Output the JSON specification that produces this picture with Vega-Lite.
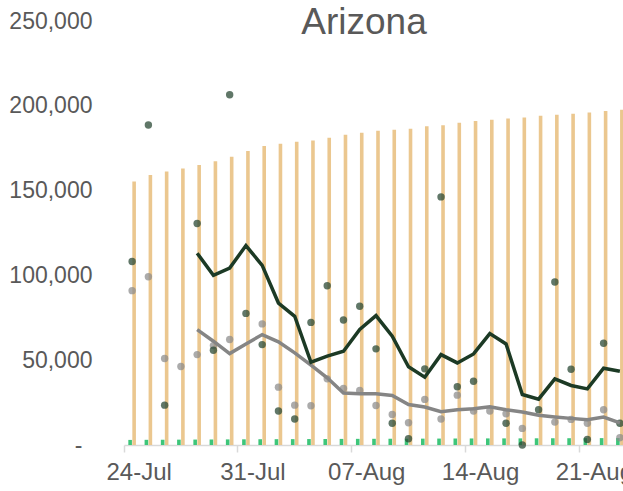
{
  "$schema": "https://vega.github.io/schema/vega-lite/v6.json",
  "width": 499,
  "height": 424,
  "autosize": {"type": "none"},
  "padding": {"left": 124, "top": 21, "right": 0, "bottom": 46},
  "background": "white",
  "config": {"view": {"stroke": null}, "font": "Liberation Sans"},
  "title": {"text": "Arizona", "fontSize": 37, "color": "#595959", "font": "Liberation Sans", "fontWeight": "normal", "anchor": "middle", "orient": "top", "frame": "group", "offset": -32, "dx": -9.5},
  "data": {"values": [
    {"d": "24-Jul", "cum": 155300, "deaths": 3000, "dark": 108200, "grey": 91000, "davg": null, "gavg": null},
    {"d": "25-Jul", "cum": 159200, "deaths": 3050, "dark": 188700, "grey": 99200, "davg": null, "gavg": null},
    {"d": "26-Jul", "cum": 161200, "deaths": 3100, "dark": 23500, "grey": 51000, "davg": null, "gavg": null},
    {"d": "27-Jul", "cum": 163100, "deaths": 3150, "dark": null, "grey": 46300, "davg": null, "gavg": null},
    {"d": "28-Jul", "cum": 165100, "deaths": 3200, "dark": 130600, "grey": 53300, "davg": 113100, "gavg": 68000},
    {"d": "29-Jul", "cum": 167300, "deaths": 3250, "dark": 55900, "grey": 58600, "davg": 100000, "gavg": 61200},
    {"d": "30-Jul", "cum": 170000, "deaths": 3300, "dark": 206500, "grey": 62200, "davg": 104300, "gavg": 53900},
    {"d": "31-Jul", "cum": 173300, "deaths": 3350, "dark": 77600, "grey": null, "davg": 117600, "gavg": 59600},
    {"d": "01-Aug", "cum": 176300, "deaths": 3400, "dark": 59200, "grey": 71400, "davg": 105900, "gavg": 65100},
    {"d": "02-Aug", "cum": 177600, "deaths": 3430, "dark": 20000, "grey": 34100, "davg": 83700, "gavg": 60800},
    {"d": "03-Aug", "cum": 178800, "deaths": 3460, "dark": 15300, "grey": 23500, "davg": 75900, "gavg": 54300},
    {"d": "04-Aug", "cum": 179600, "deaths": 3500, "dark": 72300, "grey": 23100, "davg": 48800, "gavg": 47100},
    {"d": "05-Aug", "cum": 181200, "deaths": 3550, "dark": 93900, "grey": 39000, "davg": 52400, "gavg": 39600},
    {"d": "06-Aug", "cum": 182900, "deaths": 3600, "dark": 73700, "grey": 33300, "davg": 55300, "gavg": 30600},
    {"d": "07-Aug", "cum": 184100, "deaths": 3630, "dark": 81800, "grey": 32200, "davg": 68100, "gavg": 30200},
    {"d": "08-Aug", "cum": 185300, "deaths": 3660, "dark": 56700, "grey": 23300, "davg": 76300, "gavg": 30200},
    {"d": "09-Aug", "cum": 185900, "deaths": 3690, "dark": 12800, "grey": 18000, "davg": 64100, "gavg": 29200},
    {"d": "10-Aug", "cum": 186500, "deaths": 3700, "dark": 3700, "grey": 13100, "davg": 46100, "gavg": 23900},
    {"d": "11-Aug", "cum": 188000, "deaths": 3750, "dark": 44900, "grey": 26900, "davg": 40000, "gavg": 22400},
    {"d": "12-Aug", "cum": 188600, "deaths": 3790, "dark": 146300, "grey": 15300, "davg": 53300, "gavg": 19600},
    {"d": "13-Aug", "cum": 190000, "deaths": 3830, "dark": 34300, "grey": 29400, "davg": 48400, "gavg": 20800},
    {"d": "14-Aug", "cum": 191000, "deaths": 3860, "dark": 37600, "grey": 20000, "davg": 53700, "gavg": 21400},
    {"d": "15-Aug", "cum": 191800, "deaths": 3890, "dark": null, "grey": 20000, "davg": 65700, "gavg": 22600},
    {"d": "16-Aug", "cum": 192500, "deaths": 3900, "dark": 12800, "grey": 18400, "davg": 59600, "gavg": 20800},
    {"d": "17-Aug", "cum": 193100, "deaths": 3910, "dark": 0, "grey": 9800, "davg": 29800, "gavg": 19400},
    {"d": "18-Aug", "cum": 194100, "deaths": 3950, "dark": 20800, "grey": null, "davg": 27000, "gavg": 17500},
    {"d": "19-Aug", "cum": 194700, "deaths": 3980, "dark": 96100, "grey": 13500, "davg": 39000, "gavg": 16500},
    {"d": "20-Aug", "cum": 195300, "deaths": 4000, "dark": 44700, "grey": 15100, "davg": 35100, "gavg": 15700},
    {"d": "21-Aug", "cum": 196000, "deaths": 4030, "dark": 3300, "grey": 12800, "davg": 33100, "gavg": 14900},
    {"d": "22-Aug", "cum": 197000, "deaths": 4060, "dark": 60000, "grey": 20800, "davg": 45300, "gavg": 16500},
    {"d": "23-Aug", "cum": 197600, "deaths": 4100, "dark": 12800, "grey": 4300, "davg": 43500, "gavg": 13100}
  ]},
  "encoding": {
    "x": {
      "field": "d", "type": "ordinal", "sort": null,
      "scale": {"range": [0, 504], "paddingInner": 0, "paddingOuter": 0},
      "axis": {
        "title": null, "values": ["24-Jul", "31-Jul", "07-Aug", "14-Aug", "21-Aug"],
        "bandPosition": 0, "labelOffset": 7, "labelAngle": 0,
        "labelFont": "Liberation Sans", "labelFontSize": 24, "labelColor": "#595959", "labelPadding": 8,
        "domainColor": "#D9D9D9", "domainWidth": 1.5, "tickColor": "#D9D9D9", "tickWidth": 1.5, "tickSize": 7, "grid": false
      }
    }
  },
  "layer": [
    {
      "mark": {"type": "bar", "width": 3.6, "xOffset": 2, "color": "#EBC78F"},
      "encoding": {"y": {"field": "cum", "type": "quantitative",
        "scale": {"domain": [0, 250000], "nice": false},
        "axis": {"title": null, "values": [0, 50000, 100000, 150000, 200000, 250000],
          "labelExpr": "datum.value === 0 ? '-' : format(datum.value, ',')",
          "domain": false, "ticks": false, "grid": false,
          "labelFont": "Liberation Sans", "labelFontSize": 23, "labelColor": "#595959",
          "labelPadding": {"condition": {"test": "datum.value === 0", "value": 42}, "value": 32}}}}
    },
    {
      "mark": {"type": "bar", "width": 3.6, "xOffset": -2, "color": "#3DC67A"},
      "encoding": {"y": {"field": "deaths", "type": "quantitative"}}
    },
    {
      "mark": {"type": "circle", "size": 55, "color": "#8A8A8A", "opacity": 0.72},
      "encoding": {"y": {"field": "grey", "type": "quantitative"}}
    },
    {
      "mark": {"type": "circle", "size": 55, "color": "#2B4A35", "opacity": 0.75},
      "encoding": {"y": {"field": "dark", "type": "quantitative"}}
    },
    {
      "mark": {"type": "line", "color": "#858585", "strokeWidth": 3.5},
      "encoding": {"y": {"field": "gavg", "type": "quantitative"}}
    },
    {
      "mark": {"type": "line", "color": "#1C3A25", "strokeWidth": 3.5},
      "encoding": {"y": {"field": "davg", "type": "quantitative"}}
    }
  ]
}
